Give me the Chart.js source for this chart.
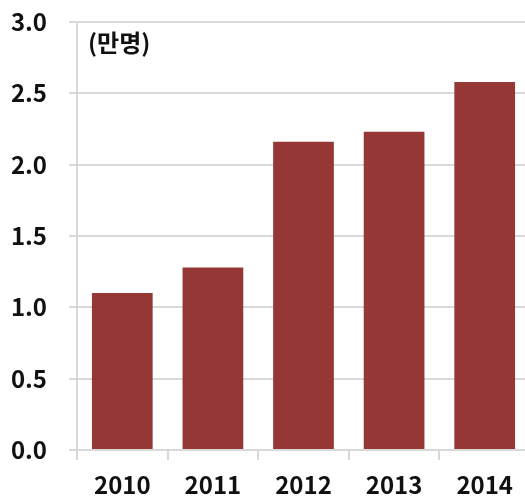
<!DOCTYPE html>
<html>
<head>
<meta charset="utf-8">
<script src="https://cdn.jsdelivr.net/npm/chart.js@4/dist/chart.umd.min.js"></script>
<style>
  html, body { margin: 0; padding: 0; background: #fff; overflow: hidden; }
  #wrap { width: 530px; height: 497px; position: relative; }
</style>
</head>
<body>
<div id="wrap"><canvas id="c"></canvas></div>
<script>
const years = ['2010', '2011', '2012', '2013', '2014'];
const values = [1.10, 1.28, 2.16, 2.23, 2.58];
const unitLabel = '(만명)';

const fontFamily = '"Noto Sans CJK KR", "Noto Sans", sans-serif';
const gridColor = '#d9d9d9';

// 단위 표시
const unitPlugin = {
  id: 'unitLabel',
  afterDraw(chart) {
    const { ctx, chartArea } = chart;
    ctx.save();
    ctx.font = 'bold 24px ' + fontFamily;
    ctx.fillStyle = '#111';
    ctx.textBaseline = 'middle';
    ctx.fillText(unitLabel, chartArea.left + 11, chartArea.top + 21);
    ctx.restore();
  }
};

new Chart(document.getElementById('c'), {
  type: 'bar',
  data: {
    labels: years,
    datasets: [{
      data: values,
      backgroundColor: '#953735',
      borderWidth: 0,
      categoryPercentage: 1,
      barPercentage: 0.67
    }]
  },
  options: {
    responsive: true,
    maintainAspectRatio: false,
    animation: false,
    layout: { padding: { left: 0, top: 22, right: 0, bottom: 0 } },
    plugins: { legend: { display: false }, tooltip: { enabled: false } },
    scales: {
      x: {
        afterFit: s => { s.height = 47; },
        grid: { drawOnChartArea: false, drawTicks: true, tickLength: 10, offset: true, color: gridColor, lineWidth: 2 },
        border: { display: true, color: gridColor, width: 2 },
        ticks: { color: '#111', padding: 10, font: { family: fontFamily, size: 24, weight: 'bold' } }
      },
      y: {
        min: 0,
        max: 3,
        afterFit: s => { s.width = 77; s.paddingTop = 0; s.paddingBottom = 0; },
        grid: { color: gridColor, lineWidth: 2, tickLength: 8 },
        border: { display: true, color: gridColor, width: 2 },
        ticks: {
          stepSize: 0.5,
          color: '#111',
          padding: 22,
          font: { family: fontFamily, size: 24, weight: 'bold' },
          callback: v => v.toFixed(1)
        }
      }
    }
  },
  plugins: [unitPlugin]
});
</script>
</body>
</html>
